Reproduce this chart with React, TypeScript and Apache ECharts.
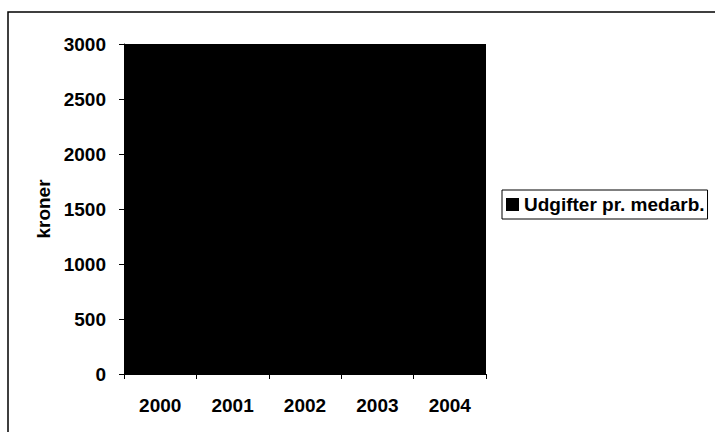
import React, { useEffect, useRef } from "react";
import * as echarts from "echarts";

const years = ["2000", "2001", "2002", "2003", "2004"];
const expenses = [2500, 2100, 2200, 2140, 2480];
const yTicks = [0, 500, 1000, 1500, 2000, 2500, 3000];
const seriesName = "Udgifter pr. medarb.";
const yAxisName = "kroner";

export default function App() {
  const ref = useRef<HTMLDivElement>(null);
  useEffect(() => {
    if (!ref.current) return;
    const chart = echarts.init(ref.current, null, { renderer: "svg" });
    const font = "Liberation Sans";
    chart.setOption({
      animation: false,
      backgroundColor: "#fff",
      textStyle: { fontFamily: font },
      graphic: [
        {
          type: "rect",
          shape: { x: 8, y: 12, width: 760, height: 460 },
          style: { fill: "none", stroke: "#000", lineWidth: 1.5 },
          silent: true,
          z: -1,
        },
      ],
      grid: {
        left: 124,
        right: 229,
        top: 44,
        bottom: 58,
        show: true,
        backgroundColor: "#000",
        borderColor: "#000",
        borderWidth: 0,
      },
      legend: {
        left: 502,
        top: 190,
        orient: "vertical",
        padding: [5, 3, 5, 4],
        borderColor: "#000",
        borderWidth: 1,
        itemWidth: 13,
        itemHeight: 13,
        itemGap: 0,
        icon: "rect",
        data: [seriesName],
        textStyle: { fontFamily: font, fontSize: 19, fontWeight: "bold", color: "#000", padding: [0, 0, 0, 0] },
      },
      xAxis: {
        type: "category",
        data: years,
        axisLine: { show: true, lineStyle: { color: "#000", width: 1 } },
        axisTick: { show: true, length: 5, lineStyle: { color: "#000" } },
        axisLabel: { color: "#000", fontSize: 19, fontWeight: "bold", fontFamily: font, margin: 22 },
      },
      yAxis: {
        type: "value",
        min: yTicks[0],
        max: yTicks[yTicks.length - 1],
        interval: 500,
        name: yAxisName,
        nameLocation: "middle",
        nameGap: 70,
        nameRotate: 90,
        nameTextStyle: { color: "#000", fontSize: 19, fontWeight: "bold", fontFamily: font },
        axisLine: { show: true, lineStyle: { color: "#000", width: 1 } },
        axisTick: { show: true, length: 5, lineStyle: { color: "#000" } },
        axisLabel: {
          color: "#000",
          fontSize: 19,
          fontWeight: "bold",
          fontFamily: font,
          margin: 18,
          formatter: (v: number) => String(v),
        },
        splitLine: { show: false },
      },
      series: [
        {
          name: seriesName,
          type: "bar",
          data: expenses,
          barWidth: "50%",
          itemStyle: { color: "#000" },
        },
      ],
    });
    return () => chart.dispose();
  }, []);
  return (
    <div
      ref={ref}
      style={{ position: "fixed", left: 0, top: 0, width: 715, height: 432 }}
    />
  );
}
